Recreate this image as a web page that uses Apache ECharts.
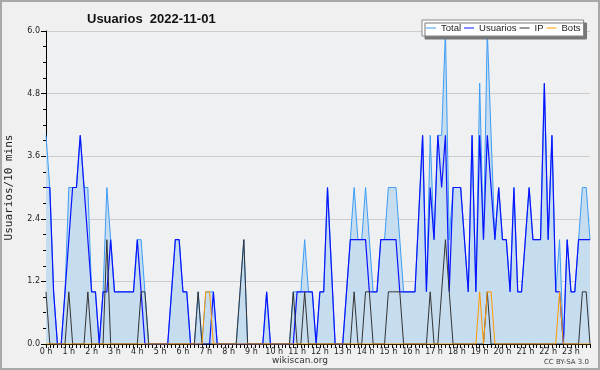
<!DOCTYPE html>
<html>
<head>
<meta charset="utf-8">
<script src="https://cdn.jsdelivr.net/npm/echarts@6/dist/echarts.min.js"></script>
<style>
  html, body { margin: 0; padding: 0; background: #f0f0f0; }
  #chart { width: 600px; height: 370px; }
</style>
</head>
<body>
<div id="chart"></div>
<script>
// etiquetas de horas (una cada 6 puntos de 10 min)
var hourLabels = ['0 h','1 h','2 h','3 h','4 h','5 h','6 h','7 h','8 h','9 h','10 h','11 h',
  '12 h','13 h','14 h','15 h','16 h','17 h','18 h','19 h','20 h','21 h','22 h','23 h'];
var yTicks = [0, 1.2, 2.4, 3.6, 4.8, 6.0];

// valores por intervalo de 10 minutos (144 puntos)
var totalData = [
  4,3,1,0,0,1,3,3,3,4, 3,3,1,1,0,1,3,2,1,1,
  1,1,1,1,2,2,1,0,0,0, 0,0,0,1,2,2,1,1,0,0,
  1,0,1,1,1,0,0,0,0,0, 0,1,2,0,0,0,0,0,1,0,
  0,0,0,0,0,1,1,1,2,1, 1,0,1,1,3,1.5,0,0,0,1,
  2,3,2,2,3,2,1,1,2,2, 3,3,3,2,1,1,1,1,2.5,4,
  1,4,2,4,4,6,2,3,3,3, 2,1,4,1,5,2,6,4,2,3,
  2,2,1,3,1,1,2,3,2,2, 2,5,2,4,1,2,0,2,1,1,
  2,3,3,2
];
var usuariosData = [
  3,3,1,0,0,1,2,3,3,4, 3,2,1,1,0,1,1,2,1,1,
  1,1,1,1,2,1,0,0,0,0, 0,0,0,1,2,2,1,1,0,0,
  0,0,0,0,1,0,0,0,0,0, 0,0,0,0,0,0,0,0,1,0,
  0,0,0,0,0,0,1,1,1,1, 1,0,1,1,3,1.5,0,0,0,1,
  2,2,2,2,2,1,1,1,2,2, 2,2,2,1,1,1,1,1,2.5,4,
  1,3,2,4,3,4,1,3,3,3, 2,1,4,1,4,2,4,3,2,3,
  2,2,1,3,1,1,2,3,2,2, 2,5,2,4,1,1,0,2,1,1,
  2,2,2,2
];
var ipData = [
  1,0,0,0,0,0,1,0,0,0, 0,1,0,0,0,0,2,0,0,0,
  0,0,0,0,0,1,1,0,0,0, 0,0,0,0,0,0,0,0,0,0,
  1,0,0,0,0,0,0,0,0,0, 0,1,2,0,0,0,0,0,0,0,
  0,0,0,0,0,1,0,0,1,0, 0,0,0,0,0,0,0,0,0,0,
  0,1,0,0,1,1,0,0,0,0, 1,1,1,1,0,0,0,0,0,0,
  0,1,0,0,1,2,1,0,0,0, 0,0,0,0,0,0,1,0,0,0,
  0,0,0,0,0,0,0,0,0,0, 0,0,0,0,0,0,0,0,0,0,
  0,1,1,0
];
var botsData = [
  0,0,0,0,0,0,0,0,0,0, 0,0,0,0,0,0,0,0,0,0,
  0,0,0,0,0,0,0,0,0,0, 0,0,0,0,0,0,0,0,0,0,
  0,0,1,1,0,0,0,0,0,0, 0,0,0,0,0,0,0,0,0,0,
  0,0,0,0,0,0,0,0,0,0, 0,0,0,0,0,0,0,0,0,0,
  0,0,0,0,0,0,0,0,0,0, 0,0,0,0,0,0,0,0,0,0,
  0,0,0,0,0,0,0,0,0,0, 0,0,0,0,1,0,1,1,0,0,
  0,0,0,0,0,0,0,0,0,0, 0,0,0,0,0,1,0,0,0,0,
  0,0,0,0
];

// categorias: 6 por hora
var categories = [];
for (var h = 0; h < hourLabels.length; h++) {
  for (var m = 0; m < 6; m++) {
    categories.push(m === 0 ? hourLabels[h] : h + ':' + m + '0');
  }
}

var font = 'DejaVu Sans';
var myChart = echarts.init(document.getElementById('chart'));
var option = {
  animation: false,
  backgroundColor: '#f0f0f0',
  title: {
    text: 'Usuarios  2022-11-01',
    left: 82,
    top: 8,
    textStyle: { fontFamily: 'Liberation Sans', fontWeight: 'bold', fontSize: 13, color: '#111' }
  },
  legend: {
    left: 422,
    top: 20,
    padding: [3, 3, 3, 4],
    itemGap: 3,
    itemWidth: 10,
    itemHeight: 1,
    icon: 'rect',
    backgroundColor: '#ffffff',
    borderColor: '#888',
    borderWidth: 1,
    shadowColor: '#777',
    shadowOffsetX: 3,
    shadowOffsetY: 3,
    shadowBlur: 0,
    textStyle: { fontFamily: 'Liberation Sans', fontSize: 9.5, color: '#222' },
    data: ['Total', 'Usuarios', 'IP', 'Bots']
  },
  grid: {
    left: 46, right: 10, top: 31, bottom: 26,
    outerBoundsMode: 'none',
    show: true, backgroundColor: '#eef0f2', borderWidth: 0
  },
  xAxis: {
    type: 'category',
    data: categories,
    boundaryGap: false,
    axisLine: { lineStyle: { color: '#000', width: 1 } },
    axisTick: { interval: 0, length: 4, lineStyle: { color: '#000' } },
    axisLabel: { interval: 5, fontFamily: font, fontSize: 8, color: '#222', margin: 4 },
    splitLine: { show: false }
  },
  yAxis: {
    type: 'value',
    min: yTicks[0],
    max: yTicks[yTicks.length - 1],
    interval: 1.2,
    name: 'Usuarios/10 mins',
    nameLocation: 'middle',
    nameGap: 31,
    nameTextStyle: { fontFamily: 'DejaVu Sans Mono', fontSize: 11, color: '#222' },
    axisLine: { show: true, lineStyle: { color: '#000', width: 1 } },
    axisTick: { show: true, length: 5, lineStyle: { color: '#000' } },
    minorTick: { show: true, splitNumber: 4, length: 3, lineStyle: { color: '#000' } },
    axisLabel: {
      fontFamily: font, fontSize: 8, color: '#222', margin: 6,
      formatter: function (v) { return v.toFixed(1); }
    },
    splitLine: { lineStyle: { color: '#cccccc', width: 1 } }
  },
  series: [
    {
      name: 'Total', type: 'line', data: totalData, symbol: 'none',
      lineStyle: { color: '#3c9cf5', width: 1 },
      itemStyle: { color: '#3c9cf5' },
      areaStyle: { color: '#c6ddf0', opacity: 1 }
    },
    {
      name: 'Usuarios', type: 'line', data: usuariosData, symbol: 'none',
      lineStyle: { color: '#0a14ff', width: 1.2 },
      itemStyle: { color: '#0a14ff' }
    },
    {
      name: 'IP', type: 'line', data: ipData, symbol: 'none',
      lineStyle: { color: '#333333', width: 1 },
      itemStyle: { color: '#333333' }
    },
    {
      name: 'Bots', type: 'line', data: botsData, symbol: 'none',
      lineStyle: { color: '#ff9900', width: 1 },
      itemStyle: { color: '#ff9900' }
    }
  ],
  graphic: [
    {
      type: 'rect', silent: true,
      shape: { x: 1, y: 1, width: 598, height: 368 },
      style: { fill: 'none', stroke: '#a8a8a8', lineWidth: 2 }
    },
    {
      type: 'text', left: 'center', top: 356,
      style: { text: 'wikiscan.org', fontFamily: font, fontSize: 9, fill: '#333' }
    },
    {
      type: 'text', right: 11, top: 359,
      style: { text: 'CC BY-SA 3.0', fontFamily: font, fontSize: 7, fill: '#444' }
    }
  ]
};
myChart.setOption(option);
</script>
</body>
</html>
